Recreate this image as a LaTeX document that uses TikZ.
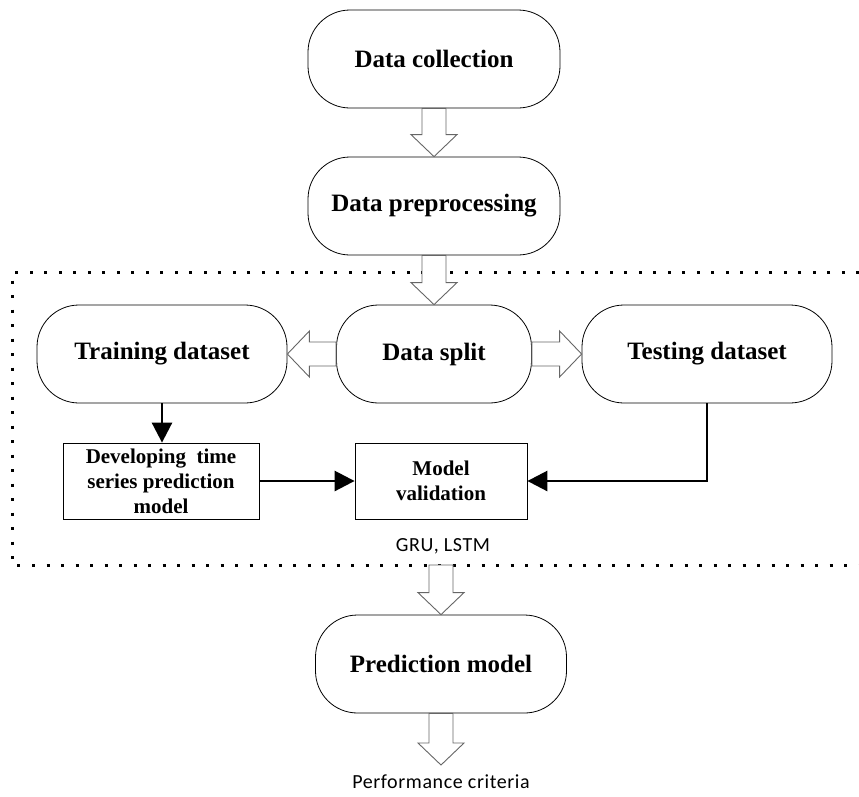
\documentclass[tikz,border=0pt]{standalone}
\usepackage{fontspec}
\setmainfont{Liberation Serif}
\newfontfamily\calibrifont[LetterSpace=3]{Carlito}
\usepackage{tikz}
\usetikzlibrary{arrows.meta}
\usetikzlibrary{calc}
\tikzset{pill/.style={draw, line width=0.8pt, rounded corners=42pt,
           minimum width=252pt, minimum height=98pt,
           font=\fontsize{25}{30}\selectfont\bfseries},
         plainbox/.style={draw, line width=0.8pt, minimum height=76pt,
           align=center, inner sep=2pt,
           font=\fontsize{21}{25}\selectfont\bfseries},
         smalltext/.style={font=\calibrifont\fontsize{20}{24}\selectfont},
         hollow/.style={draw=gray!80!black, line width=0.9pt, fill=white},
         flow/.style={line width=2.7pt, -{Triangle[length=20pt,width=20pt]}},
         dotframe/.style={line width=3pt, dash pattern=on 3pt off 11.5pt}}
% block arrows, shaft 24pt, head 46pt
\newcommand{\hollowdown}[2]{%
  \draw[hollow] let \p1=(#1), \p2=(#2) in
    (\x1-12pt,\y1) -- (\x1-12pt,\y2+22pt) -- (\x1-23pt,\y2+22pt) -- (\x1,\y2)
    -- (\x1+23pt,\y2+22pt) -- (\x1+12pt,\y2+22pt) -- (\x1+12pt,\y1) -- cycle;}
\newcommand{\hollowside}[3]{%
  \draw[hollow] let \p1=(#1), \p2=(#2) in
    (\x1,\y1-12pt) -- ({\x2-(#3)},\y1-12pt) -- ({\x2-(#3)},\y1-23pt) -- (\x2,\y1)
    -- ({\x2-(#3)},\y1+23pt) -- ({\x2-(#3)},\y1+12pt) -- (\x1,\y1+12pt) -- cycle;}
\begin{document}
\begin{tikzpicture}[x=1pt,y=-1pt]
\useasboundingbox (0,0) rectangle (859,796);
% Kasten
\node[pill] (collect) at (434,59) {Data collection};
\node[pill] (prep) at (434,206) {Data preprocessing};
\node[pill, minimum width=250pt] (train) at (162,354) {Training dataset};
\node[pill, minimum width=195pt] (split) at (434,354) {Data split};
\node[pill, minimum width=250pt] (test) at (707,354) {Testing dataset};
\node[pill, minimum width=251pt] (predict) at (441,664) {Prediction model};
\node[plainbox, minimum width=196pt] (develop) at (161,481) {Developing~ time\\series prediction\\model};
\node[plainbox, minimum width=172pt] (valid) at (441,481) {Model\\validation};
\node[smalltext] (gru) at (443,546) {GRU, LSTM};
\node[smalltext, inner sep=1pt] (perf) at (441,782) {Performance criteria};
% punktierter Rahmen
\draw[dotframe] (859,272) -- (12,272) -- (12,565) -- (859,565);
\coordinate (frameout) at (441,565);
\coordinate (perftop) at (441,765);
% Blockpfeile
\hollowdown{collect.south}{prep.north}
\hollowdown{prep.south}{split.north}
\hollowside{split.west}{train.east}{-22pt}
\hollowside{split.east}{test.west}{22pt}
\hollowdown{frameout}{predict.north}
\hollowdown{predict.south}{perftop}
% Verbindungen
\draw[flow] (train.south) -- (train.south |- develop.north);
\draw[flow] (develop.east) -- (valid.west);
\draw[flow] (test.south) |- (valid.east);
\end{tikzpicture}
\end{document}
